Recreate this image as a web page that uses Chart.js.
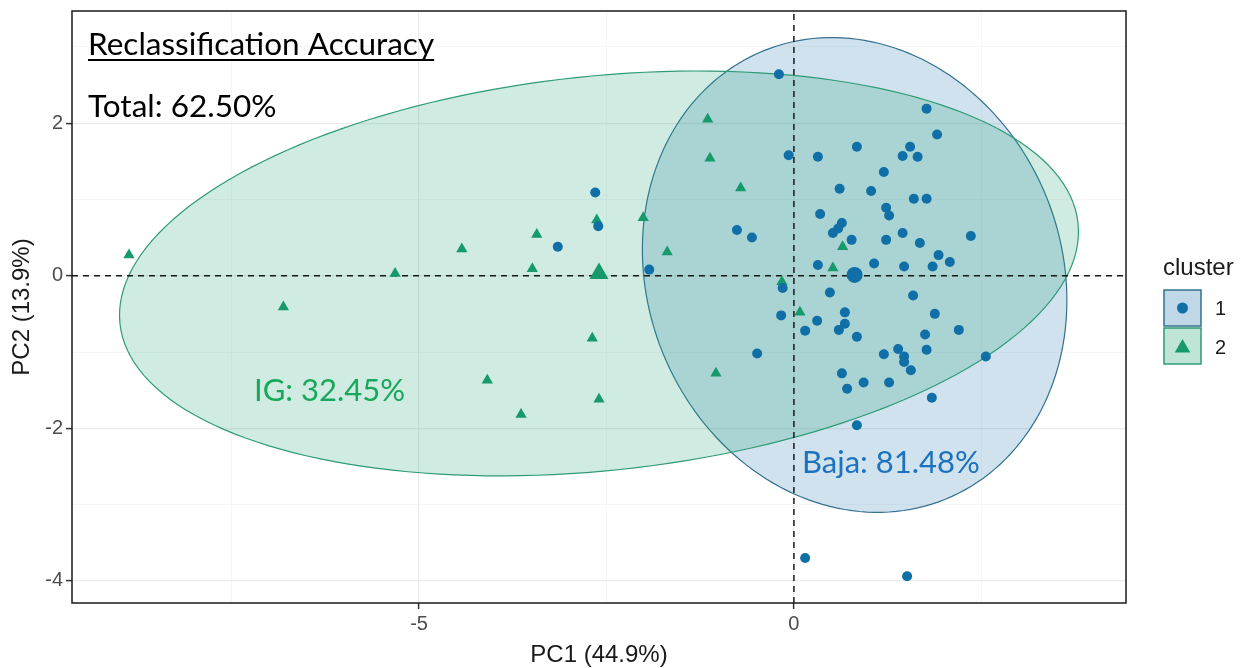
<!DOCTYPE html>
<html>
<head>
<meta charset="utf-8">
<script src="https://cdn.jsdelivr.net/npm/chart.js@4.4.1/dist/chart.umd.min.js"></script>
<style>
  html, body { margin: 0; padding: 0; background: #fff; }
</style>
</head>
<body>
<canvas id="pca" width="1247" height="668"></canvas>
<script>
// cluster 1 (blue circles)
var c1X = [-0.20, 1.77, 1.91, 0.84, -0.07, 0.32, 1.55, 1.45, 1.65, 1.20, 0.61, 1.03, 1.60, 1.77, 1.23, 1.27,
           0.35, 0.64, 0.59, 0.52, 0.77, 1.23, 1.45, 1.68, 2.36, -0.76, -0.56, -1.93, 0.32, 1.07, 1.47, 1.85,
           1.93, 2.08, -0.15, 0.48, 1.59, 0.68, 1.88, -0.17, 0.31, 0.60, 0.68, 0.15, 0.84, 1.75, 2.20, 1.77,
           -0.49, 1.20, 1.39, 1.47, 1.47, 1.56, 0.64, 0.71, 0.93, 1.27, 1.84, 2.56, 0.84,
           -2.65, -2.61, -3.15, 0.15, 1.51];
var c1Y = [2.64, 2.19, 1.85, 1.69, 1.58, 1.56, 1.69, 1.57, 1.56, 1.36, 1.14, 1.11, 1.01, 1.01, 0.89, 0.79,
           0.81, 0.69, 0.62, 0.56, 0.47, 0.47, 0.56, 0.43, 0.52, 0.60, 0.50, 0.08, 0.14, 0.16, 0.12, 0.12,
           0.27, 0.18, -0.16, -0.22, -0.26, -0.48, -0.50, -0.52, -0.59, -0.71, -0.63, -0.72, -0.80, -0.77, -0.71, -0.97,
           -1.02, -1.03, -0.96, -1.06, -1.13, -1.24, -1.28, -1.48, -1.40, -1.40, -1.60, -1.06, -1.96,
           1.09, 0.65, 0.38, -3.70, -3.94];
// cluster 2 (green triangles)
var c2X = [-8.87, -6.81, -5.32, -4.43, -3.43, -3.49, -4.09, -3.64, -2.63, -2.69, -2.60, -2.01, -1.69,
           -1.15, -1.12, -0.71, -1.04, -0.16, 0.08, 0.52, 0.65];
var c2Y = [0.27, -0.41, 0.03, 0.35, 0.54, 0.09, -1.37, -1.82, 0.73, -0.82, -1.62, 0.76, 0.31,
           2.05, 1.54, 1.15, -1.28, -0.08, -0.48, 0.10, 0.38];
// cluster centres (1, 2)
var centerX = [0.81, -2.60];
var centerY = [0.01, 0.03];
// normal ellipses: centre x, centre y, axis1 dx, dy, axis2 dx, dy (data units)
var ellipse1 = [0.81, 0.01, -1.21, 2.94, 2.56, 1.02];
var ellipse2 = [-2.60, 0.03, 6.39, 0.66, -0.28, 2.57];

var xMajor = [-5, 0];
var xMinor = [-7.5, -2.5, 2.5];
var yMajor = [-4, -2, 0, 2];
var yMinor = [-3, -1, 1, 3];
var xMin = -9.63, xMax = 4.43, yMin = -4.29, yMax = 3.47;

var blue = '#0F6FA6';
var green = '#16996B';

function pts(xs, ys) {
  return xs.map(function (x, i) { return { x: x, y: ys[i] }; });
}

function drawEllipse(chart, e, fill, stroke) {
  var sx = chart.scales.x, sy = chart.scales.y, ctx = chart.ctx;
  ctx.save();
  ctx.beginPath();
  for (var i = 0; i <= 180; i++) {
    var t = i / 180 * 2 * Math.PI;
    var px = sx.getPixelForValue(e[0] + e[2] * Math.cos(t) + e[4] * Math.sin(t));
    var py = sy.getPixelForValue(e[1] + e[3] * Math.cos(t) + e[5] * Math.sin(t));
    if (i === 0) ctx.moveTo(px, py); else ctx.lineTo(px, py);
  }
  ctx.closePath();
  ctx.fillStyle = fill;
  ctx.fill();
  ctx.strokeStyle = stroke;
  ctx.lineWidth = 1.2;
  ctx.stroke();
  ctx.restore();
}

var ellipsePlugin = {
  id: 'ellipses',
  beforeDatasetsDraw: function (chart) {
    drawEllipse(chart, ellipse1, 'rgba(15,111,166,0.2)', '#35718F');
    drawEllipse(chart, ellipse2, 'rgba(22,153,107,0.2)', '#2E9B76');
  }
};

function triangle(ctx, x, y, r) {
  ctx.beginPath();
  ctx.moveTo(x, y - r);
  ctx.lineTo(x + r * 0.866, y + r * 0.5);
  ctx.lineTo(x - r * 0.866, y + r * 0.5);
  ctx.closePath();
  ctx.fill();
}

var extrasPlugin = {
  id: 'extras',
  afterDraw: function (chart) {
    var ctx = chart.ctx, a = chart.chartArea;
    ctx.save();
    // panel border
    ctx.strokeStyle = '#1a1a1a';
    ctx.lineWidth = 1.5;
    ctx.strokeRect(a.left, a.top, a.right - a.left, a.bottom - a.top);

    // annotations
    ctx.textBaseline = 'alphabetic';
    ctx.textAlign = 'left';
    ctx.fillStyle = '#000';
    ctx.font = '31.5px Lato';
    var title = 'Reclassification Accuracy';
    ctx.fillText(title, 88, 55);
    ctx.fillRect(88, 59, ctx.measureText(title).width, 2);
    ctx.fillText('Total: 62.50%', 88, 117);
    ctx.font = '31px Lato';
    ctx.fillStyle = '#17A85B';
    ctx.fillText('IG: 32.45%', 254, 401);
    ctx.fillStyle = '#1C72BE';
    ctx.fillText('Baja: 81.48%', 802, 473);

    // legend
    ctx.fillStyle = '#1a1a1a';
    ctx.font = '24px "Liberation Sans"';
    ctx.fillText('cluster', 1163, 275);
    ctx.lineWidth = 1.5;
    ctx.fillStyle = '#C0D7E8';
    ctx.fillRect(1164, 290, 37, 36);
    ctx.strokeStyle = '#35718F';
    ctx.strokeRect(1164, 290, 37, 36);
    ctx.fillStyle = '#BFE5D7';
    ctx.fillRect(1164, 328, 37, 36);
    ctx.strokeStyle = '#2E9B76';
    ctx.strokeRect(1164, 328, 37, 36);
    ctx.fillStyle = blue;
    ctx.beginPath();
    ctx.arc(1182.5, 308, 5.5, 0, 2 * Math.PI);
    ctx.fill();
    ctx.fillStyle = green;
    triangle(ctx, 1182.5, 348, 9);
    ctx.fillStyle = '#1a1a1a';
    ctx.font = '20px "Liberation Sans"';
    ctx.textBaseline = 'middle';
    ctx.fillText('1', 1215, 309);
    ctx.fillText('2', 1215, 348);
    ctx.restore();
  }
};

var gridColor = function (major) {
  return function (c) {
    return major.indexOf(c.tick.value) >= 0 ? '#EBEBEB' : '#F2F2F2';
  };
};

new Chart(document.getElementById('pca'), {
  type: 'scatter',
  data: {
    datasets: [
      { label: 'c1', data: pts(c1X, c1Y), backgroundColor: blue, borderWidth: 0,
        pointStyle: 'circle', pointRadius: 5, order: 1 },
      { label: 'c2', data: pts(c2X, c2Y), backgroundColor: green, borderWidth: 0,
        pointStyle: 'triangle', pointRadius: 6.5, order: 1 },
      { label: 'centre1', data: [{ x: centerX[0], y: centerY[0] }], backgroundColor: blue, borderWidth: 0,
        pointStyle: 'circle', pointRadius: 8, order: 0 },
      { label: 'centre2', data: [{ x: centerX[1], y: centerY[1] }], backgroundColor: green, borderWidth: 0,
        pointStyle: 'triangle', pointRadius: 11, order: 0 },
      { type: 'line', label: 'v0', data: [{ x: 0, y: yMin }, { x: 0, y: yMax }], borderColor: '#1a1a1a',
        borderWidth: 1.5, borderDash: [6, 5], pointRadius: 0, order: 5 },
      { type: 'line', label: 'h0', data: [{ x: xMin, y: 0 }, { x: xMax, y: 0 }], borderColor: '#1a1a1a',
        borderWidth: 1.5, borderDash: [6, 5], pointRadius: 0, order: 5 }
    ]
  },
  options: {
    responsive: false,
    animation: false,
    layout: { padding: { left: 0, right: 121, top: 10, bottom: 0 } },
    plugins: { legend: { display: false }, tooltip: { enabled: false } },
    scales: {
      x: {
        type: 'linear', min: xMin, max: xMax,
        afterBuildTicks: function (s) {
          s.ticks = xMinor.concat(xMajor).sort(function (a, b) { return a - b; })
            .map(function (v) { return { value: v }; });
        },
        afterFit: function (s) { s.height = 65; s.paddingLeft = 0; s.paddingRight = 0; },
        border: { display: false },
        grid: {
          color: gridColor(xMajor),
          lineWidth: function (c) { return xMajor.indexOf(c.tick.value) >= 0 ? 1.2 : 0.7; },
          tickColor: function (c) { return xMajor.indexOf(c.tick.value) >= 0 ? '#333' : 'rgba(0,0,0,0)'; },
          tickLength: 6, tickWidth: 1.5
        },
        ticks: {
          autoSkip: false, maxRotation: 0, padding: 3, color: '#4D4D4D',
          font: { family: 'Liberation Sans', size: 20 },
          callback: function (v) { return xMajor.indexOf(v) >= 0 ? String(v) : ''; }
        },
        title: { display: true, text: 'PC1 (44.9%)', color: '#1a1a1a',
          font: { family: 'Liberation Sans', size: 24, lineHeight: 1 }, padding: { top: 0, bottom: 1 } }
      },
      y: {
        type: 'linear', min: yMin, max: yMax,
        afterBuildTicks: function (s) {
          s.ticks = yMinor.concat(yMajor).sort(function (a, b) { return a - b; })
            .map(function (v) { return { value: v }; });
        },
        afterFit: function (s) { s.width = 72; s.paddingTop = 0; s.paddingBottom = 0; },
        border: { display: false },
        grid: {
          color: gridColor(yMajor),
          lineWidth: function (c) { return yMajor.indexOf(c.tick.value) >= 0 ? 1.2 : 0.7; },
          tickColor: function (c) { return yMajor.indexOf(c.tick.value) >= 0 ? '#333' : 'rgba(0,0,0,0)'; },
          tickLength: 6, tickWidth: 1.5
        },
        ticks: {
          autoSkip: false, padding: 3, color: '#4D4D4D',
          font: { family: 'Liberation Sans', size: 20 },
          callback: function (v) { return yMajor.indexOf(v) >= 0 ? String(v) : ''; }
        },
        title: { display: true, text: 'PC2 (13.9%)', color: '#1a1a1a',
          font: { family: 'Liberation Sans', size: 24, lineHeight: 1 }, padding: { top: 10, bottom: 0 } }
      }
    }
  },
  plugins: [ellipsePlugin, extrasPlugin]
});
</script>
</body>
</html>
